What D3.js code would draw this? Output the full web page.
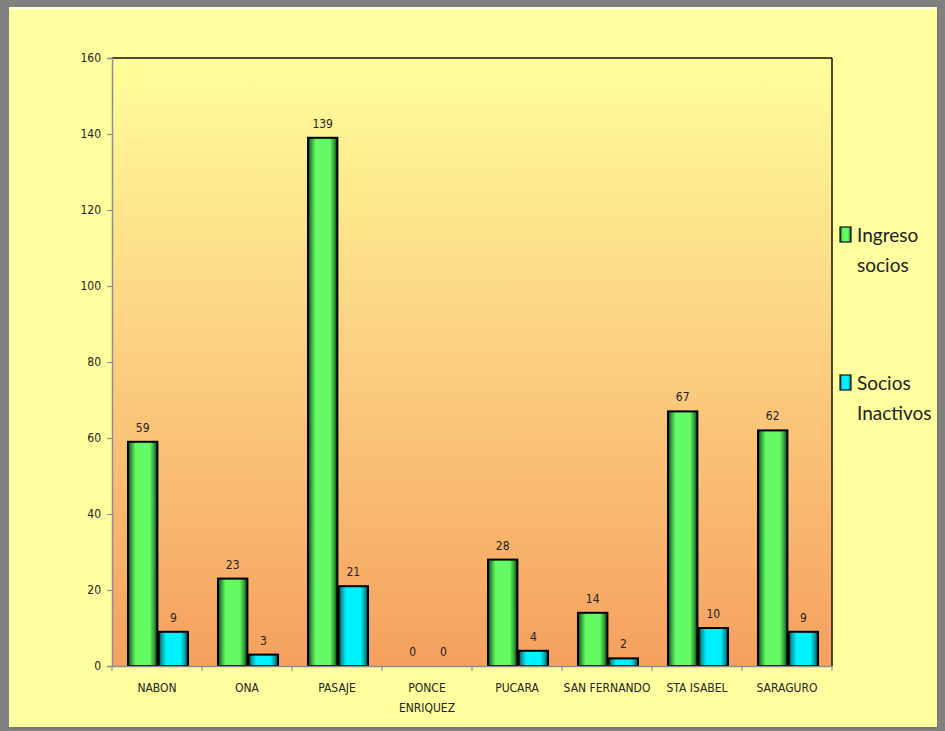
<!DOCTYPE html>
<html>
<head>
<meta charset="utf-8">
<script src="https://cdn.jsdelivr.net/npm/d3@7"></script>
<style>
  html, body { margin: 0; padding: 0; background: #808080; }
  svg { display: block; }
</style>
</head>
<body>
<svg id="chart" width="945" height="731"></svg>
<script>
// Socios por agencia
const categories = ["NABON", "ONA", "PASAJE", "PONCE ENRIQUEZ", "PUCARA", "SAN FERNANDO", "STA ISABEL", "SARAGURO"];
const ingresoSocios = [59, 23, 139, 0, 28, 14, 67, 62];
const sociosInactivos = [9, 3, 21, 0, 4, 2, 10, 9];
const seriesNames = ["Ingreso socios", "Socios Inactivos"];
const yTicks = [0, 20, 40, 60, 80, 100, 120, 140, 160];

const W = 945, H = 731;
const margin = { left: 112, right: 113, top: 58, bottom: 65 };
const plotW = W - margin.left - margin.right;   // 720
const plotH = H - margin.top - margin.bottom;   // 608

const svg = d3.select("#chart");
const defs = svg.append("defs");

// plot area fill: pale yellow at the top to orange at the bottom
const bg = defs.append("linearGradient").attr("id", "plotBg")
  .attr("x1", 0).attr("y1", 0).attr("x2", 0).attr("y2", 1);
bg.append("stop").attr("offset", "0%").attr("stop-color", "#ffff99");
bg.append("stop").attr("offset", "45%").attr("stop-color", "#fcd382");
bg.append("stop").attr("offset", "100%").attr("stop-color", "#f5a05e");

// bar fills with darkened edges
function barGradient(id, edge, shade, mid) {
  const g = defs.append("linearGradient").attr("id", id)
    .attr("x1", 0).attr("y1", 0).attr("x2", 1).attr("y2", 0);
  g.append("stop").attr("offset", "0%").attr("stop-color", edge);
  g.append("stop").attr("offset", "10%").attr("stop-color", shade);
  g.append("stop").attr("offset", "26%").attr("stop-color", mid);
  g.append("stop").attr("offset", "74%").attr("stop-color", mid);
  g.append("stop").attr("offset", "90%").attr("stop-color", shade);
  g.append("stop").attr("offset", "100%").attr("stop-color", edge);
}
barGradient("gGreen", "#0c300c", "#2f9a2f", "#64fa64");
barGradient("gCyan", "#053434", "#0a9aa0", "#00f2ff");
const fills = ["url(#gGreen)", "url(#gCyan)"];

// panel
svg.append("rect").attr("x", 0).attr("y", 0).attr("width", W).attr("height", H).attr("fill", "#808080");
svg.append("rect").attr("x", 11).attr("y", 9).attr("width", 927).attr("height", 720).attr("fill", "#6a6a50").attr("opacity", 0.5);
svg.append("rect").attr("x", 9).attr("y", 7).attr("width", 928).attr("height", 720).attr("fill", "#ffff9f");
svg.append("line").attr("x1", 10).attr("x2", 936).attr("y1", 8.5).attr("y2", 8.5).attr("stroke", "#ffffe8").attr("stroke-width", 2);

const x0 = d3.scaleBand().domain(categories).range([margin.left, margin.left + plotW]).paddingInner(0.333).paddingOuter(0.1665);
const x1 = d3.scaleBand().domain(seriesNames).range([0, x0.bandwidth()]).paddingInner(0.04);
const y = d3.scaleLinear().domain([0, 160]).range([margin.top + plotH, margin.top]);

// plot area
svg.append("rect").attr("x", margin.left).attr("y", margin.top)
  .attr("width", plotW).attr("height", plotH).attr("fill", "url(#plotBg)");
svg.append("line").attr("x1", margin.left).attr("x2", margin.left + plotW)
  .attr("y1", margin.top).attr("y2", margin.top).attr("stroke", "#111").attr("stroke-width", 1.5);
svg.append("line").attr("x1", margin.left + plotW).attr("x2", margin.left + plotW)
  .attr("y1", margin.top).attr("y2", margin.top + plotH).attr("stroke", "#111").attr("stroke-width", 1.5);

const tickFont = "'Liberation Sans Narrow', 'DejaVu Sans Condensed', 'Arial Narrow', sans-serif";

// y axis
const yAxis = svg.append("g").attr("transform", `translate(${margin.left},0)`)
  .call(d3.axisLeft(y).tickValues(yTicks).tickSize(5).tickPadding(6));
yAxis.select(".domain").attr("stroke", "#8c8c9c").attr("stroke-width", 1.5);
yAxis.selectAll(".tick line").attr("stroke", "#8c8c9c").attr("stroke-width", 1.2);
yAxis.selectAll("text").attr("font-family", tickFont).attr("font-size", 12).attr("fill", "#222");

// bars
const groups = svg.append("g").selectAll("g").data(categories).join("g")
  .attr("transform", d => `translate(${x0(d) + 1},0)`);
groups.selectAll("rect").data((d, i) => [ingresoSocios[i], sociosInactivos[i]].map((v, s) => ({ v, s })))
  .join("rect")
  .filter(d => d.v > 0)
  .attr("x", d => x1(seriesNames[d.s]))
  .attr("y", d => y(d.v))
  .attr("width", x1.bandwidth())
  .attr("height", d => y(0) - y(d.v))
  .attr("fill", d => fills[d.s])
  .attr("stroke", "#000")
  .attr("stroke-width", 2);

// value labels
groups.selectAll("text").data((d, i) => [ingresoSocios[i], sociosInactivos[i]].map((v, s) => ({ v, s })))
  .join("text")
  .attr("x", d => x1(seriesNames[d.s]) + x1.bandwidth() / 2)
  .attr("y", d => y(d.v) - 10)
  .attr("text-anchor", "middle")
  .attr("font-family", tickFont).attr("font-size", 12).attr("fill", "#222")
  .text(d => d.v);

// x axis
const xAxis = svg.append("g").attr("transform", `translate(0,${margin.top + plotH})`)
  .call(d3.axisBottom(x0).tickSize(0).tickFormat(""));
xAxis.select(".domain").attr("stroke", "#8c8c9c").attr("stroke-width", 1.5);
svg.append("g").selectAll("line").data(d3.range(categories.length + 1)).join("line")
  .attr("x1", i => margin.left + i * plotW / categories.length)
  .attr("x2", i => margin.left + i * plotW / categories.length)
  .attr("y1", margin.top + plotH).attr("y2", margin.top + plotH + 5)
  .attr("stroke", "#8c8c9c").attr("stroke-width", 1.2);

svg.append("g").selectAll("text").data(categories).join("text")
  .attr("x", d => x0(d) + x0.bandwidth() / 2)
  .attr("y", margin.top + plotH + 26)
  .attr("text-anchor", "middle")
  .attr("font-family", tickFont).attr("font-size", 12).attr("fill", "#222")
  .each(function (d) {
    const words = d === "PONCE ENRIQUEZ" ? ["PONCE", "ENRIQUEZ"] : [d];
    const t = d3.select(this);
    words.forEach((w, k) => t.append("tspan").attr("x", x0(d) + x0.bandwidth() / 2)
      .attr("dy", k === 0 ? 0 : 20).text(w));
  });

// legend
const legendY = [227, 375];
const legendLines = [["Ingreso", "socios"], ["Socios", "Inactivos"]];
const legend = svg.append("g");
seriesNames.forEach((name, s) => {
  legend.append("rect").attr("x", 840).attr("y", legendY[s]).attr("width", 11).attr("height", 15)
    .attr("fill", fills[s]).attr("stroke", "#111").attr("stroke-width", 1.2);
  const t = legend.append("text").attr("x", 857).attr("y", legendY[s] + 15)
    .attr("font-family", "Lato, 'Open Sans', sans-serif").attr("font-size", 19).attr("fill", "#222");
  legendLines[s].forEach((w, k) => t.append("tspan").attr("x", 857).attr("dy", k === 0 ? 0 : 30).text(w));
});
</script>
</body>
</html>
